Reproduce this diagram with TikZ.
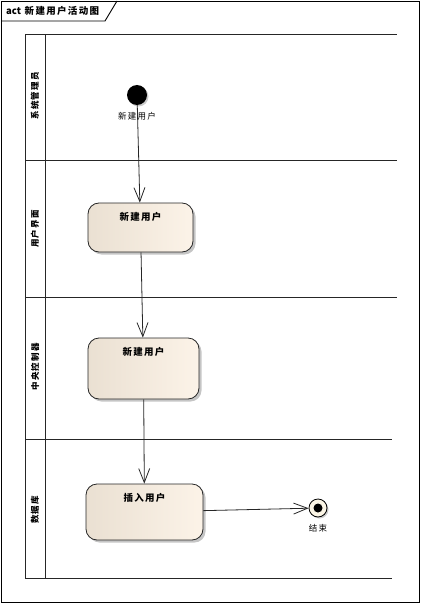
\documentclass[tikz,border=0pt]{standalone}
\usepackage{fontspec}
\setmainfont{Noto Sans CJK SC}[LetterSpace=14]
\newfontfamily\latinbold{Noto Sans CJK SC}
\usetikzlibrary{arrows.meta,shadows}
\definecolor{actL}{RGB}{234,224,210}
\definecolor{actR}{RGB}{252,243,232}
\definecolor{finfill}{RGB}{252,246,230}
\begin{document}
\begin{tikzpicture}[x=1pt,y=-1pt,
  frameline/.style={draw=black, line width=0.9pt},
  laneline/.style={draw=black!85, line width=1pt},
  lanelabel/.style={rotate=90, inner sep=0pt, font=\fontsize{8.5}{9}\selectfont\bfseries},
  actbox/.style={draw=black!85, line width=0.8pt, rounded corners=11pt, inner sep=0pt,
    left color=actL, right color=actR,
    drop shadow={shadow xshift=2.5pt, shadow yshift=-2.5pt, fill=black!45, opacity=0.5}},
  acttext/.style={anchor=north, inner sep=0pt, yshift=-9.5pt, font=\fontsize{9.5}{10}\selectfont\bfseries},
  initnode/.style={circle, fill=black, inner sep=0pt, minimum size=20pt,
    drop shadow={shadow xshift=1.5pt, shadow yshift=-1.5pt, fill=black!40, opacity=0.5}},
  finnode/.style={circle, draw=black, line width=0.8pt, fill=finfill, inner sep=0pt, minimum size=18pt,
    drop shadow={shadow xshift=1.5pt, shadow yshift=-1.5pt, fill=black!40, opacity=0.5}},
  nodelabel/.style={inner sep=0pt, font=\fontsize{8.5}{9}\selectfont},
  flow/.style={draw=black!85, line width=0.8pt, -{Straight Barb[length=14pt,width=11pt,line width=0.8pt]}}
]
\useasboundingbox (0,0) rectangle (421,604);
% outer frame and title tab
\draw[frameline] (1,1) rectangle (419,602);
\draw[frameline] (1,21) -- (105,21) -- (117,1);
\node[anchor=west, inner sep=0pt, font=\fontsize{9.5}{10}\selectfont\bfseries] (title) at (6,11) {{\latinbold\bfseries act} 新建用户活动图};
% swimlanes
\draw[laneline] (25,35) -- (397,35);
\draw[laneline] (25,161) -- (397,161);
\draw[laneline] (25,297) -- (397,297);
\draw[laneline] (25,439) -- (392,439);
\draw[laneline] (25,578) -- (392,578);
\draw[laneline] (25,35) -- (25,578);
\draw[laneline] (45,35) -- (45,578);
\node[lanelabel] (l1) at (35,96) {系统管理员};
\node[lanelabel] (l2) at (35,229) {用户界面};
\node[lanelabel] (l3) at (35,367) {中央控制器};
\node[lanelabel] (l4) at (35,510) {数据库};
% nodes
\node[initnode, label={[nodelabel, label distance=7pt]below:新建用户}] (init) at (137,95) {};
\node[actbox, minimum width=105pt, minimum height=49pt,
  label={[acttext]north:新建用户}] (a1) at (140.5,227.5) {};
\node[actbox, minimum width=111pt, minimum height=61pt,
  label={[acttext]north:新建用户}] (a2) at (143.5,368.5) {};
\node[actbox, minimum width=117pt, minimum height=56pt,
  label={[acttext]north:插入用户}] (a3) at (144.5,512) {};
\node[finnode, label={[nodelabel, label distance=7pt]below:结束}] (fin) at (318,508) {};
\fill[black] (fin.center) circle (4.5pt);
% flows
\draw[flow] (init) -- (a1);
\draw[flow] (a1) -- (a2);
\draw[flow] (a2) -- (a3);
\draw[flow] (a3) -- (fin);
\end{tikzpicture}
\end{document}
